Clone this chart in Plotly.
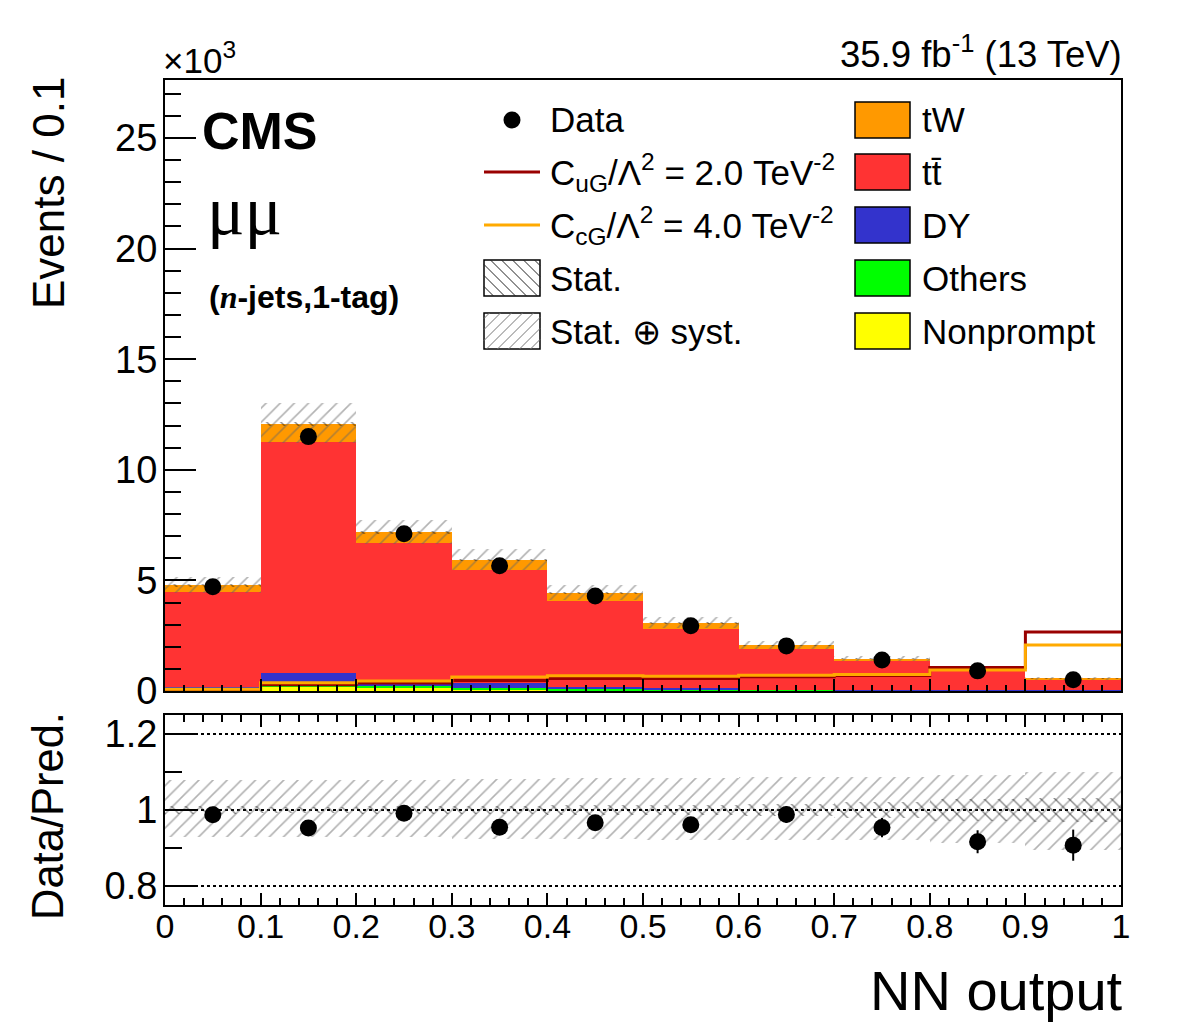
import numpy as np
import plotly.graph_objects as go

# ---------------- data (values in units of 10^3 events) ----------------
bin_edges = [0.0, 0.1, 0.2, 0.3, 0.4, 0.5, 0.6, 0.7, 0.8, 0.9, 1.0]

data_vals = [4.71, 11.50, 7.11, 5.66, 4.29, 2.95, 2.04, 1.40, 0.91, 0.51]
data_err = [0.069, 0.107, 0.084, 0.075, 0.065, 0.054, 0.045, 0.037, 0.030, 0.023]

nonprompt = [0.03, 0.20, 0.15, 0.05, 0.04, 0.01, 0.005, 0.003, 0.003, 0.002]
others = [0.06, 0.15, 0.12, 0.07, 0.08, 0.06, 0.04, 0.04, 0.02, 0.02]
dy = [0.09, 0.45, 0.08, 0.23, 0.07, 0.05, 0.01, 0.005, 0.04, 0.03]
ttbar = [4.29, 10.45, 6.32, 5.13, 3.90, 2.69, 1.83, 1.30, 0.85, 0.46]
tw = [0.30, 0.82, 0.50, 0.45, 0.35, 0.26, 0.18, 0.12, 0.08, 0.05]

sig_cug = [0.06, 0.28, 0.36, 0.48, 0.57, 0.57, 0.64, 0.70, 1.06, 2.67]
sig_ccg = [0.08, 0.37, 0.45, 0.63, 0.69, 0.67, 0.71, 0.75, 0.95, 2.08]

# relative uncertainties
unc_up = [0.079, 0.079, 0.079, 0.082, 0.083, 0.085, 0.088, 0.088, 0.093, 0.100]
unc_dn = [0.071, 0.071, 0.072, 0.075, 0.076, 0.078, 0.080, 0.080, 0.088, 0.106]
stat_unc = [0.010, 0.008, 0.010, 0.010, 0.012, 0.014, 0.016, 0.020, 0.030, 0.032]

# ---------------- styling ----------------
FONT = "Liberation Sans"
C_TW = "#FF9900"
C_TT = "#FF3333"
C_DY = "#3333CC"
C_OTH = "#00FF00"
C_NP = "#FFFF00"
C_CUG = "#990000"
C_CCG = "#FFAA00"

edges = np.array(bin_edges)
centers = 0.5 * (edges[:-1] + edges[1:])
widths = np.diff(edges)

stack = [
    ("Nonprompt", nonprompt, C_NP),
    ("Others", others, C_OTH),
    ("DY", dy, C_DY),
    ("tt", ttbar, C_TT),
    ("tW", tw, C_TW),
]

fig = go.Figure()
cum = np.zeros(len(centers))
for name, vals, col in stack:
    v = np.array(vals)
    fig.add_trace(go.Bar(x=centers, y=v, base=cum.copy(), width=widths,
                         marker=dict(color=col, line=dict(width=0)), opacity=1,
                         name=name, showlegend=False, xaxis="x", yaxis="y"))
    cum = cum + v
total = cum

up = np.array(unc_up)
dn = np.array(unc_dn)
st = np.array(stat_unc)


def band(xa, ya, base, height, shape, color, sol):
    return go.Bar(x=centers, y=height, base=base, width=widths,
                  marker=dict(color="rgba(0,0,0,0)", line=dict(width=0),
                              pattern=dict(shape=shape, fgcolor=color, bgcolor="rgba(0,0,0,0)",
                                           size=10, solidity=sol, fillmode="overlay")),
                  showlegend=False, xaxis=xa, yaxis=ya, hoverinfo="skip")


fig.add_trace(band("x", "y", total * (1 - dn), total * (up + dn), "/", "#666666", 0.16))
fig.add_trace(band("x", "y", total * (1 - st), total * 2 * st, "\\", "#111111", 0.14))

# signal step lines
for vals, col in [(sig_cug, C_CUG), (sig_ccg, C_CCG)]:
    yy = list(vals) + [vals[-1]]
    fig.add_trace(go.Scatter(x=edges, y=yy, mode="lines", line=dict(color=col, width=3, shape="hv"),
                             showlegend=False, xaxis="x", yaxis="y"))

fig.add_trace(go.Scatter(x=centers, y=data_vals, mode="markers",
                         marker=dict(size=17, color="black"),
                         error_y=dict(type="data", array=data_err, color="black", thickness=2, width=0),
                         showlegend=False, xaxis="x", yaxis="y"))

# ratio panel
fig.add_trace(band("x2", "y2", 1 - dn, up + dn, "/", "#666666", 0.16))
fig.add_trace(band("x2", "y2", 1 - st, 2 * st, "\\", "#111111", 0.14))
ratio = np.array(data_vals) / total
ratio_err = np.array(data_err) / total
fig.add_trace(go.Scatter(x=centers, y=ratio, mode="markers",
                         marker=dict(size=17, color="black"),
                         error_y=dict(type="data", array=ratio_err, color="black", thickness=2, width=0),
                         showlegend=False, xaxis="x2", yaxis="y2"))

# ---------------- layout ----------------
L, R, T, B = 165, 61, 80, 127
W, H = 1182, 1032
PW = W - L - R
PH = H - T - B


def px(xp):
    return (xp - L) / PW


def py(yp):
    return (H - B - yp) / PH


axis_common = dict(showline=True, linewidth=2, linecolor="black", showgrid=False, zeroline=False,
                   ticks="inside", tickcolor="black", tickwidth=2)

fig.update_layout(
    width=W, height=H,
    margin=dict(l=L, r=R, t=T, b=B),
    paper_bgcolor="white", plot_bgcolor="white",
    barmode="overlay", bargap=0,
    font=dict(family=FONT, color="black"),
    showlegend=False,
    xaxis=dict(domain=[0, 1], range=[0, 1], anchor="y", showticklabels=False, mirror=True,
               dtick=0.1, tick0=0, ticklen=12,
               minor=dict(dtick=0.02, tick0=0, ticklen=6, tickwidth=2, ticks="inside", tickcolor="black"),
               **axis_common),
    yaxis=dict(domain=[py(691), 1], range=[0, (691 - 80) / 22.12], anchor="x", mirror=True,
               dtick=5, tick0=0, ticklen=31, tickfont=dict(size=38, family=FONT), ticklabelstandoff=-2,
               minor=dict(dtick=1, tick0=0, ticklen=16, tickwidth=2, ticks="inside", tickcolor="black"),
               **axis_common),
    xaxis2=dict(domain=[0, 1], range=[0, 1], anchor="y2", mirror="allticks",
                dtick=0.1, tick0=0, ticklen=12, tickfont=dict(size=34, family=FONT), ticklabelstandoff=-10,
                minor=dict(dtick=0.02, tick0=0, ticklen=7, tickwidth=2, ticks="inside", tickcolor="black"),
                **axis_common),
    yaxis2=dict(domain=[0, py(715)], range=[0.75, 1.25], anchor="x2", mirror=True,
                dtick=0.2, tick0=0, ticklen=33, tickfont=dict(size=38, family=FONT), ticklabelstandoff=-2,
                minor=dict(dtick=0.1, tick0=0, ticklen=17, tickwidth=2, ticks="inside", tickcolor="black"),
                showline=True, linewidth=2, linecolor="black", zeroline=False,
                ticks="inside", tickcolor="black", tickwidth=2,
                showgrid=True, gridcolor="black", griddash="dot", gridwidth=2),
)

ann = []


def text(xp, yp, s, size, xanchor="left", yanchor="middle", angle=0, weight="normal", family=FONT):
    ann.append(dict(x=px(xp), y=py(yp), xref="paper", yref="paper", text=s, showarrow=False,
                    xanchor=xanchor, yanchor=yanchor, textangle=angle,
                    font=dict(size=size, family=family, color="black", weight=weight)))


text(161, 58, "×10<sup>3</sup>", 35, "left")
text(1124, 52, "35.9 fb<sup>-1</sup> (13 TeV)", 36.5, "right")
text(200, 131, "CMS", 52, "left", weight="bold")
text(205, 210, "μμ", 70, "left", family="Liberation Serif")
text(207, 297, "(<span style='font-family:Liberation Serif'><i>n</i></span>-jets,1-tag)", 32, "left", weight="bold")
text(48, 193, "Events / 0.1", 44, "center", angle=-90)
text(48, 816, "Data/Pred.", 43.5, "center", angle=-90)
text(1125, 990, "NN output", 56, "right")

# legend
shapes = []
rows = [120, 172, 225, 278, 331]
left_txt = ["Data", "C<sub>uG</sub>/Λ<sup>2</sup> = 2.0 TeV<sup>-2</sup>",
            "C<sub>cG</sub>/Λ<sup>2</sup> = 4.0 TeV<sup>-2</sup>", "Stat.", "Stat. ⊕ syst."]
right_txt = ["tW", "tt\u0304", "DY", "Others", "Nonprompt"]
right_col = [C_TW, C_TT, C_DY, C_OTH, C_NP]
for yv, s in zip(rows, left_txt):
    text(548, yv, s, 35, "left")
for yv, s in zip(rows, right_txt):
    text(920, yv, s, 35, "left")


def rect(x0, y0, x1, y1, fill):
    shapes.append(dict(type="rect", xref="paper", yref="paper", x0=px(x0), x1=px(x1), y0=py(y1), y1=py(y0),
                       fillcolor=fill, line=dict(color="black", width=1.5), layer="above"))


def hatch(x0, y0, x1, y1, spacing, kind, color):
    segs = []
    if kind == "/":
        c = x0 + y0 + spacing / 2
        while c < x1 + y1:
            xa, xb = max(x0, c - y1), min(x1, c - y0)
            if xb > xa:
                segs.append(f"M{px(xa)},{py(c - xa)} L{px(xb)},{py(c - xb)}")
            c += spacing
    else:
        c = y0 - x1 + spacing / 2
        while c < y1 - x0:
            xa, xb = max(x0, y0 - c), min(x1, y1 - c)
            if xb > xa:
                segs.append(f"M{px(xa)},{py(xa + c)} L{px(xb)},{py(xb + c)}")
            c += spacing
    shapes.append(dict(type="path", xref="paper", yref="paper", path=" ".join(segs),
                       line=dict(color=color, width=1), layer="above"))


for yv, col in zip(rows, right_col):
    rect(855, yv - 18, 910, yv + 18, col)

# data marker
shapes.append(dict(type="circle", xref="paper", yref="paper", x0=px(503.5), x1=px(520.5),
                   y0=py(128.5), y1=py(111.5), fillcolor="black", line=dict(color="black", width=0), layer="above"))
# signal lines
shapes.append(dict(type="line", xref="paper", yref="paper", x0=px(484), x1=px(540), y0=py(172), y1=py(172),
                   line=dict(color=C_CUG, width=3), layer="above"))
shapes.append(dict(type="line", xref="paper", yref="paper", x0=px(484), x1=px(540), y0=py(225), y1=py(225),
                   line=dict(color=C_CCG, width=3), layer="above"))
# hatched boxes
rect(484, 260, 540, 296, "white")
hatch(484, 260, 540, 296, 11, "\\", "#222222")
rect(484, 313, 540, 349, "white")
hatch(484, 313, 540, 349, 11, "/", "#777777")

fig.update_layout(annotations=ann, shapes=shapes)
fig.write_html("out.html")
